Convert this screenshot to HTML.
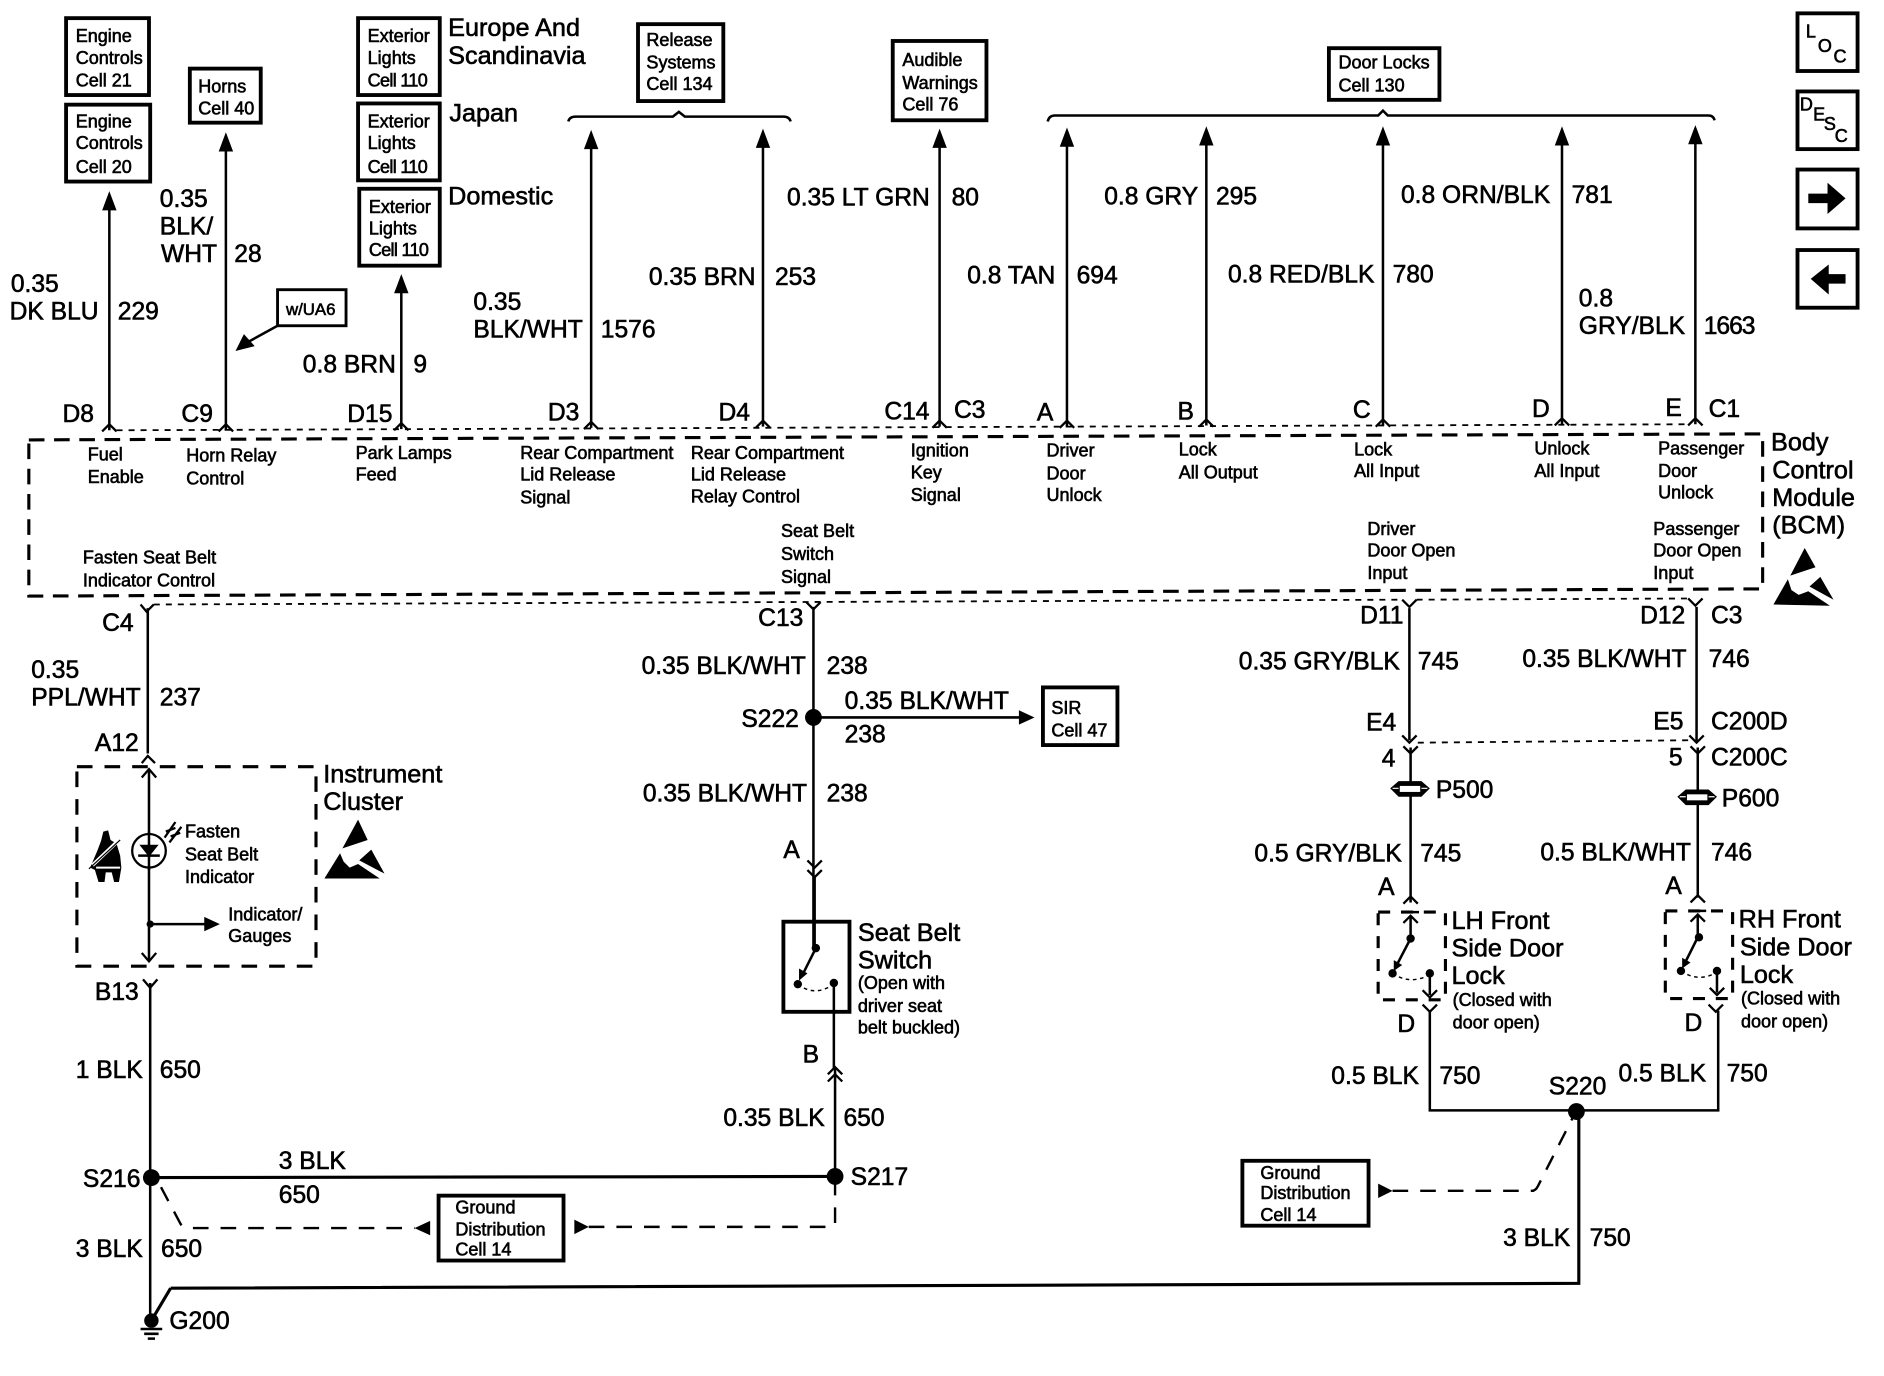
<!DOCTYPE html>
<html><head><meta charset="utf-8"><style>
html,body{margin:0;padding:0;background:#fff}
svg{display:block}
text{font-family:"Liberation Sans",sans-serif;fill:#000;stroke:#000;stroke-width:.5}
.l{font-size:20.5px}.m{font-size:15px}.h{font-size:21px}
.w{fill:none;stroke:#000;stroke-width:2.1}
.t{fill:none;stroke:#000;stroke-width:2.6}
.b{fill:#fff;stroke:#000;stroke-width:3.2}
.c{fill:none;stroke:#000;stroke-width:1.9}
.d{fill:none;stroke:#000;stroke-width:1.5;stroke-dasharray:5 5}
.x{fill:none;stroke:#000;stroke-width:2.6;stroke-dasharray:13 8}
.g{fill:none;stroke:#000;stroke-width:2;stroke-dasharray:13 10}
polygon,circle.f{fill:#000;stroke:none}
</style></head><body>
<svg width="1884" height="1376" viewBox="0 0 1568 1145" xmlns="http://www.w3.org/2000/svg">
<rect width="1568" height="1145" fill="#fff"/>
<!-- boxes -->
<rect class="b" x="55" y="15" width="69" height="64"/><rect class="b" x="55" y="87" width="70" height="64"/>
<rect class="b" x="158" y="57" width="59" height="45"/><rect class="b" x="298" y="15" width="68" height="64"/>
<rect class="b" x="298" y="86" width="68" height="64"/><rect class="b" x="299" y="157" width="67" height="64"/>
<rect class="b" x="531" y="20" width="71" height="64"/><rect class="b" x="743" y="34" width="78" height="66"/>
<rect class="b" x="1106" y="40" width="92" height="43"/><rect class="b" x="231" y="241" width="57" height="30" style="stroke-width:2.4"/>
<rect class="b" x="868" y="572" width="62" height="48"/><rect class="b" x="365" y="995" width="104" height="54"/>
<rect class="b" x="1034" y="966" width="105" height="54"/><rect class="b" x="652" y="767" width="55" height="75"/>
<rect class="b" x="1496" y="11" width="50" height="48"/><rect class="b" x="1496" y="76" width="50" height="48"/>
<rect class="b" x="1496" y="141" width="50" height="49"/><rect class="b" x="1496" y="208" width="50" height="48"/>
<polygon points="1505,161 1521,161 1521,152 1536,165 1521,178 1521,169 1505,169"/>
<polygon points="1536,228 1522,228 1522,220 1507,232 1522,245 1522,236 1536,236"/>
<!-- braces -->
<path class="w" d="M473,101 Q474,97 479,97 H560 L565,93 L570,97 H652 Q657,97 658,101"/>
<path class="w" d="M872,101 Q873,96 878,96 H1147 L1151,92 L1155,96 H1422 Q1426,96 1427,100"/>
<!-- top wires -->
<g class="w">
<path d="M91,165V358M188,118V358M334,235V357M492,115V356M635,114V355M782,114V355M888,114V355M1004,112V354M1151,112V354M1300,112V353M1411,111V353"/>
</g>
<polygon points="91,159 85,175 97,175"/><polygon points="188,110 182,126 194,126"/><polygon points="334,228 328,244 340,244"/>
<polygon points="492,108 486,124 498,124"/><polygon points="635,107 629,123 641,123"/><polygon points="782,107 776,123 788,123"/>
<polygon points="888,106 882,122 894,122"/><polygon points="1004,105 998,121 1010,121"/><polygon points="1151,105 1145,121 1157,121"/>
<polygon points="1300,105 1294,121 1306,121"/><polygon points="1411,104 1405,120 1417,120"/>
<!-- top chevrons -->
<path class="c" d="M85,359L91,353L97,359M182,359L188,353L194,359M328,358L334,352L340,358M486,357L492,351L498,357M629,356L635,350L641,356M776,356L782,350L788,356M882,356L888,350L894,356M998,355L1004,349L1010,355M1145,355L1151,349L1157,355M1294,354L1300,348L1306,354M1405,354L1411,348L1417,354"/>
<path class="d" d="M97,358L1405,353"/>
<!-- BCM dashed -->
<path class="x" d="M24,366L1467,361V490L24,496Z"/>
<path class="d" d="M128,503L1167,499M1179,499L1405,498"/>
<!-- bottom chevrons BCM -->
<path class="c" d="M117,503L122,509L128,503M671,501L677,507L683,501M1167,499L1173,505L1179,499M1405,498L1411,504L1417,498"/>
<!-- left wire -->
<path class="w" d="M123,506V627M124,640V800M125,818V1099M677,505V790"/>
<path class="c" d="M118,635L123,629L129,635M118,647L124,640L130,647M118,793L124,800L130,793M119,815L125,822L131,815"/>
<path class="x" d="M64,638H263V804H64Z" style="stroke-dasharray:13 10"/>
<ellipse cx="124" cy="708" rx="14" ry="14" class="c" style="fill:#fff"/>
<path class="w" d="M124,692V724M115,712H133"/><polygon points="116,703 132,703 124,713"/>
<path class="c" d="M137,697L146,684M141,701L151,688M138,692L146,689M142,696L150,693"/>
<circle class="f" cx="125" cy="769" r="3"/><path class="w" d="M125,769H172"/><polygon points="183,769 170,763 170,775"/>
<!-- seatbelt icon -->
<polygon points="86,692 90,691 92,699 97,702 100,712 101,722 99,734 95,734 93,726 88,726 87,734 82,734 79,724 75,722 81,708 84,700"/>
<path d="M77,720L98,700" stroke="#fff" stroke-width="3"/><path d="M74,723L100,699" stroke="#000" stroke-width="1"/>
<path d="M80,722H100" stroke="#fff" stroke-width="1.6"/>
<!-- S216/S217 -->
<path class="t" d="M126,980L695,979"/><circle class="f" cx="126" cy="980" r="7"/><circle class="f" cx="695" cy="979" r="7"/>
<path class="w" d="M695,979V889M694,889V818"/>
<path class="c" d="M689,894L695,888L701,894M689,900L695,894L701,900"/>
<path class="t" d="M142,1072L1314,1068V925M126,1099L142,1072"/><circle class="f" cx="126" cy="1099" r="6"/>
<path class="w" d="M117,1106H135M120,1110H132M123,1114H129"/>
<!-- ground dashed -->
<path class="g" d="M134,988L150,1018Q152,1022 158,1022H345"/><polygon points="345,1022 358,1016 358,1028"/>
<path class="g" d="M490,1021H692Q695,1021 695,1018V985"/><polygon points="490,1021 478,1015 478,1027"/>
<path class="g" d="M1159,991H1275Q1278,991 1280,987L1310,928"/><polygon points="1159,991 1147,985 1147,997"/>
<!-- S222 -->
<circle class="f" cx="677" cy="597" r="7"/><path class="w" d="M677,597H850"/><polygon points="861,597 848,591 848,603"/>
<path class="c" d="M672,716L678,722L684,716M672,724L678,730L684,724"/>
<path class="w" d="M678,730V790"/>
<circle class="f" cx="679" cy="789" r="3.5"/><path class="w" d="M679,789L668,811"/><polygon points="665,816 665,806 672,810"/><circle class="f" cx="664" cy="819" r="3.5"/><circle class="f" cx="694" cy="818" r="3.5"/>
<path d="M664,819Q678,830 694,819" fill="none" stroke="#000" stroke-width="1.2" stroke-dasharray="3 3"/>
<!-- LH lock -->
<path class="w" d="M1173,506V616M1174,622V751M1190,841V924H1430V841M1412,505V617M1413,622V747"/>
<path class="c" d="M1167,612L1173,618L1179,612M1168,621L1174,627L1180,621M1406,612L1412,618L1418,612M1407,621L1413,627L1419,621"/>
<path class="d" d="M1180,618L1406,616"/>
<polygon points="1157,656 1164,650 1183,650 1190,656 1183,663 1164,663"/><rect x="1165" y="654" width="17" height="5" fill="#fff"/><path d="M1159,656H1164M1183,656H1188" stroke="#fff" stroke-width="1"/>
<polygon points="1396,663 1403,657 1422,657 1429,663 1422,670 1403,670"/><rect x="1404" y="661" width="17" height="5" fill="#fff"/><path d="M1398,663H1403M1422,663H1427" stroke="#fff" stroke-width="1"/>
<path class="c" d="M1168,752L1174,746L1180,752M1407,751L1413,745L1419,751"/>
<path class="g" d="M1147,759H1203V832H1147Z" style="stroke-width:2.6;stroke-dasharray:10 9"/>
<path class="g" d="M1386,758H1442V831H1386Z" style="stroke-width:2.6;stroke-dasharray:10 9"/>
<path class="w" d="M1167,759H1181M1174,762V781L1162,804M1190,810V828M1406,758H1420M1413,761V780L1402,802M1429,808V826"/>
<polygon points="1160,808 1160,799 1167,803"/><polygon points="1400,806 1400,797 1407,801"/>
<path class="c" d="M1168,768L1174,762L1180,768M1407,767L1413,761L1419,767M1184,824L1190,830L1196,824M1423,822L1429,828L1435,822M1184,836L1190,842L1196,836M1422,836L1428,842L1434,836"/>
<circle class="f" cx="1174" cy="781" r="3.5"/><circle class="f" cx="1159" cy="810" r="3.5"/><circle class="f" cx="1190" cy="810" r="3.5"/>
<circle class="f" cx="1414" cy="780" r="3.5"/><circle class="f" cx="1399" cy="808" r="3.5"/><circle class="f" cx="1429" cy="808" r="3.5"/>
<path d="M1159,810Q1174,820 1190,811M1399,808Q1414,818 1429,809" fill="none" stroke="#000" stroke-width="1.2" stroke-dasharray="3 3"/>
<circle class="f" cx="1312" cy="925" r="7"/>
<!-- w/UA6 arrow -->
<path class="w" d="M231,271L202,287"/><polygon points="196,292 203,278 212,288"/>
<!-- ESD -->
<polygon points="1502,456 1511,472 1490,479"/><polygon points="1488,482 1476,503 1523,504 1505,492 1497,495 1491,491"/><polygon points="1515,480 1526,499 1506,488"/>
<polygon points="298,682 306,699 285,706"/><polygon points="283,710 270,731 316,731 298,719 291,722 286,717"/><polygon points="309,707 320,727 299,716"/>
<!-- text -->
<g class="m">
<text x="63" y="35">Engine</text><text x="63" y="53">Controls</text><text x="63" y="72">Cell 21</text>
<text x="63" y="106">Engine</text><text x="63" y="124">Controls</text><text x="63" y="144">Cell 20</text>
<text x="165" y="77">Horns</text><text x="165" y="95">Cell 40</text>
<text x="306" y="35">Exterior</text><text x="306" y="53">Lights</text><text x="306" y="72" textLength="50">Cell 110</text>
<text x="306" y="106">Exterior</text><text x="306" y="124">Lights</text><text x="306" y="144" textLength="50">Cell 110</text>
<text x="307" y="177">Exterior</text><text x="307" y="195">Lights</text><text x="307" y="213" textLength="50">Cell 110</text>
<text x="538" y="38">Release</text><text x="538" y="57">Systems</text><text x="538" y="75">Cell 134</text>
<text x="751" y="55">Audible</text><text x="751" y="74">Warnings</text><text x="751" y="92">Cell 76</text>
<text x="1114" y="57">Door Locks</text><text x="1114" y="76">Cell 130</text>
<text x="238" y="262" style="font-size:14px">w/UA6</text>
<text x="73" y="383">Fuel</text><text x="73" y="402">Enable</text>
<text x="155" y="384">Horn Relay</text><text x="155" y="403">Control</text>
<text x="296" y="382">Park Lamps</text><text x="296" y="400">Feed</text>
<text x="433" y="382">Rear Compartment</text><text x="433" y="400">Lid Release</text><text x="433" y="419">Signal</text>
<text x="575" y="382">Rear Compartment</text><text x="575" y="400">Lid Release</text><text x="575" y="418">Relay Control</text>
<text x="758" y="380">Ignition</text><text x="758" y="398">Key</text><text x="758" y="417">Signal</text>
<text x="871" y="380">Driver</text><text x="871" y="399">Door</text><text x="871" y="417">Unlock</text>
<text x="981" y="379">Lock</text><text x="981" y="398">All Output</text>
<text x="1127" y="379">Lock</text><text x="1127" y="397">All Input</text>
<text x="1277" y="378">Unlock</text><text x="1277" y="397">All Input</text>
<text x="1380" y="378">Passenger</text><text x="1380" y="397">Door</text><text x="1380" y="415">Unlock</text>
<text x="650" y="447">Seat Belt</text><text x="650" y="466">Switch</text><text x="650" y="485">Signal</text>
<text x="1138" y="445">Driver</text><text x="1138" y="463">Door Open</text><text x="1138" y="482">Input</text>
<text x="1376" y="445">Passenger</text><text x="1376" y="463">Door Open</text><text x="1376" y="482">Input</text>
<text x="69" y="469">Fasten Seat Belt</text><text x="69" y="488">Indicator Control</text>
<text x="154" y="697">Fasten</text><text x="154" y="716">Seat Belt</text><text x="154" y="735">Indicator</text>
<text x="190" y="766">Indicator/</text><text x="190" y="784">Gauges</text>
<text x="875" y="594">SIR</text><text x="875" y="613">Cell 47</text>
<text x="379" y="1010">Ground</text><text x="379" y="1028">Distribution</text><text x="379" y="1045">Cell 14</text>
<text x="1049" y="981">Ground</text><text x="1049" y="998">Distribution</text><text x="1049" y="1016">Cell 14</text>
<text x="714" y="823">(Open with</text><text x="714" y="842">driver seat</text><text x="714" y="860">belt buckled)</text>
<text x="1209" y="837">(Closed with</text><text x="1209" y="856">door open)</text>
<text x="1449" y="836">(Closed with</text><text x="1449" y="855">door open)</text>
<text x="1503" y="31">L</text><text x="1513" y="43">O</text><text x="1526" y="52">C</text>
<text x="1498" y="92">D</text><text x="1509" y="100">E</text><text x="1518" y="108">S</text><text x="1527" y="118">C</text>
</g>
<g class="h">
<text x="373" y="30">Europe And</text><text x="373" y="53">Scandinavia</text><text x="374" y="101">Japan</text><text x="373" y="170">Domestic</text>
<text x="1474" y="375">Body</text><text x="1475" y="398">Control</text><text x="1475" y="421">Module</text><text x="1475" y="444">(BCM)</text>
<text x="269" y="651">Instrument</text><text x="269" y="674">Cluster</text>
<text x="714" y="783">Seat Belt</text><text x="714" y="806">Switch</text>
<text x="1208" y="773">LH Front</text><text x="1208" y="796">Side Door</text><text x="1208" y="819">Lock</text>
<text x="1447" y="772">RH Front</text><text x="1448" y="795">Side Door</text><text x="1448" y="818">Lock</text>
</g>
<g class="l">
<text x="9" y="243">0.35</text><text x="8" y="266">DK BLU</text><text x="98" y="266">229</text>
<text x="133" y="172">0.35</text><text x="133" y="195">BLK/</text><text x="134" y="218">WHT</text><text x="195" y="218">28</text>
<text x="252" y="310">0.8 BRN</text><text x="344" y="310">9</text>
<text x="394" y="258">0.35</text><text x="394" y="281">BLK/WHT</text><text x="500" y="281">1576</text>
<text x="540" y="237">0.35 BRN</text><text x="645" y="237">253</text>
<text x="655" y="171">0.35 LT GRN</text><text x="792" y="171">80</text>
<text x="805" y="236">0.8 TAN</text><text x="896" y="236">694</text>
<text x="919" y="170">0.8 GRY</text><text x="1012" y="170">295</text>
<text x="1022" y="235">0.8 RED/BLK</text><text x="1159" y="235">780</text>
<text x="1166" y="169">0.8 ORN/BLK</text><text x="1308" y="169">781</text>
<text x="1314" y="255">0.8</text><text x="1314" y="278">GRY/BLK</text><text x="1418" y="278" textLength="43">1663</text>
<text x="52" y="351">D8</text><text x="151" y="351">C9</text><text x="289" y="351">D15</text><text x="456" y="350">D3</text><text x="598" y="350">D4</text><text x="736" y="349">C14</text><text x="794" y="348">C3</text><text x="863" y="350">A</text><text x="980" y="349">B</text><text x="1126" y="348">C</text><text x="1275" y="347">D</text><text x="1386" y="346">E</text><text x="1422" y="347">C1</text>
<text x="85" y="525">C4</text><text x="631" y="521">C13</text><text x="1132" y="519">D11</text><text x="1365" y="519">D12</text><text x="1424" y="519">C3</text>
<text x="26" y="564">0.35</text><text x="26" y="587">PPL/WHT</text><text x="133" y="587">237</text>
<text x="79" y="625">A12</text><text x="79" y="832">B13</text>
<text x="63" y="897">1 BLK</text><text x="133" y="897">650</text>
<text x="69" y="988">S216</text><text x="232" y="973">3 BLK</text><text x="232" y="1001">650</text>
<text x="63" y="1046">3 BLK</text><text x="134" y="1046">650</text><text x="141" y="1106">G200</text><text x="708" y="986">S217</text>
<text x="534" y="561">0.35 BLK/WHT</text><text x="688" y="561">238</text>
<text x="703" y="590">0.35 BLK/WHT</text><text x="703" y="618">238</text><text x="617" y="605">S222</text>
<text x="535" y="667">0.35 BLK/WHT</text><text x="688" y="667">238</text>
<text x="652" y="714">A</text><text x="668" y="884">B</text>
<text x="602" y="937">0.35 BLK</text><text x="702" y="937">650</text>
<text x="1031" y="557">0.35 GRY/BLK</text><text x="1180" y="557">745</text>
<text x="1267" y="555">0.35 BLK/WHT</text><text x="1422" y="555">746</text>
<text x="1137" y="608">E4</text><text x="1376" y="607">E5</text><text x="1424" y="607">C200D</text>
<text x="1150" y="638">4</text><text x="1389" y="637">5</text><text x="1424" y="637">C200C</text>
<text x="1195" y="664">P500</text><text x="1433" y="671">P600</text>
<text x="1044" y="717">0.5 GRY/BLK</text><text x="1182" y="717">745</text>
<text x="1282" y="716">0.5 BLK/WHT</text><text x="1424" y="716">746</text>
<text x="1147" y="745">A</text><text x="1386" y="744">A</text>
<text x="1163" y="859">D</text><text x="1402" y="858">D</text>
<text x="1108" y="902">0.5 BLK</text><text x="1198" y="902">750</text>
<text x="1347" y="900">0.5 BLK</text><text x="1437" y="900">750</text>
<text x="1289" y="911">S220</text>
<text x="1251" y="1037">3 BLK</text><text x="1323" y="1037">750</text>
</g>
</svg>
</body></html>
